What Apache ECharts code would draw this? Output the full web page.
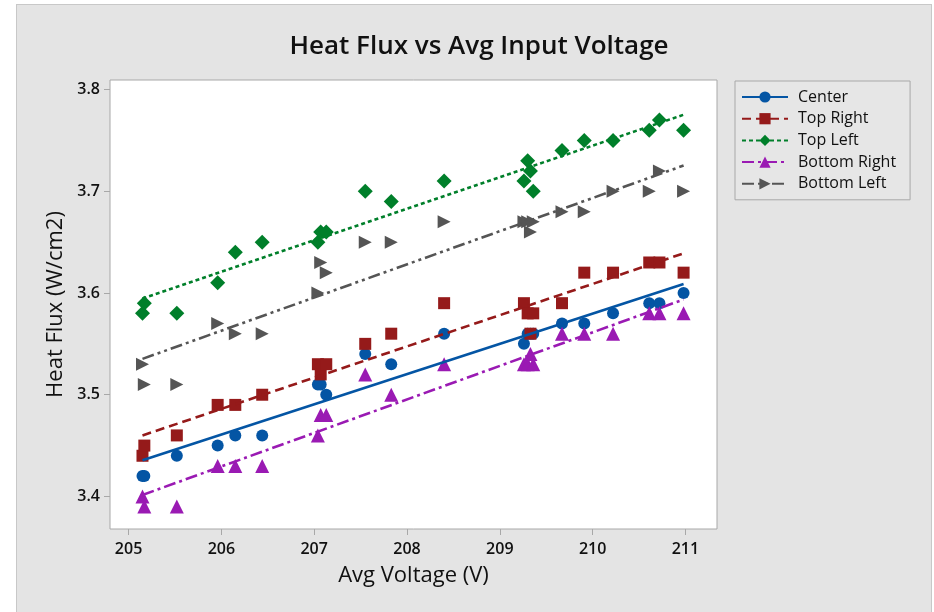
<!DOCTYPE html>
<html>
<head>
<meta charset="utf-8">
<script src="https://cdn.jsdelivr.net/npm/echarts@6/dist/echarts.min.js"></script>
<style>
html,body{margin:0;padding:0;background:#ffffff;}
#panel{position:absolute;left:16px;top:4px;width:916px;height:608px;background:#e4e4e4;border-left:1px solid #c8c8c8;border-top:1px solid #c8c8c8;border-right:1px solid #c8c8c8;box-sizing:border-box;}
#chart{position:absolute;left:0;top:0;width:934px;height:612px;}
</style>
</head>
<body>
<div id="panel"></div>
<div id="chart"></div>
<script>
const voltage = [205.15, 205.17, 205.52, 205.96, 206.15, 206.44, 207.04, 207.07, 207.13, 207.55, 207.83, 208.40, 209.26, 209.30, 209.33, 209.36, 209.67, 209.91, 210.22, 210.61, 210.72, 210.98];
const center      = [3.42, 3.42, 3.44, 3.45, 3.46, 3.46, 3.51, 3.51, 3.50, 3.54, 3.53, 3.56, 3.55, 3.56, 3.56, 3.56, 3.57, 3.57, 3.58, 3.59, 3.59, 3.60];
const topRight    = [3.44, 3.45, 3.46, 3.49, 3.49, 3.50, 3.53, 3.52, 3.53, 3.55, 3.56, 3.59, 3.59, 3.58, 3.56, 3.58, 3.59, 3.62, 3.62, 3.63, 3.63, 3.62];
const topLeft     = [3.58, 3.59, 3.58, 3.61, 3.64, 3.65, 3.65, 3.66, 3.66, 3.70, 3.69, 3.71, 3.71, 3.73, 3.72, 3.70, 3.74, 3.75, 3.75, 3.76, 3.77, 3.76];
const bottomRight = [3.40, 3.39, 3.39, 3.43, 3.43, 3.43, 3.46, 3.48, 3.48, 3.52, 3.50, 3.53, 3.53, 3.53, 3.54, 3.53, 3.56, 3.56, 3.56, 3.58, 3.58, 3.58];
const bottomLeft  = [3.53, 3.51, 3.51, 3.57, 3.56, 3.56, 3.60, 3.63, 3.62, 3.65, 3.65, 3.67, 3.67, 3.67, 3.66, 3.67, 3.68, 3.68, 3.70, 3.70, 3.72, 3.70];
const seriesNames = ['Center', 'Top Right', 'Top Left', 'Bottom Right', 'Bottom Left'];
const xTicks = [205, 206, 207, 208, 209, 210, 211];
const yTicks = [3.4, 3.5, 3.6, 3.7, 3.8];

const seriesValues = [center, topRight, topLeft, bottomRight, bottomLeft];
const styles = [
  {color:'#0455a4', symbol:'circle', size:12, dash:'solid'},
  {color:'#951a1a', symbol:'rect', size:12, dash:[9,5]},
  {color:'#007f2a', symbol:'diamond', size:15, dash:[4,3]},
  {color:'#9a1ab3', symbol:'triangle', size:14, dash:[12,4,3,4]},
  {color:'#555555', symbol:'path://M0,0L10,5.5L0,11Z', size:13, dash:[12,4,3,4,3,4]}
];

function fit(xs, ys){
  const n = xs.length;
  let sx=0, sy=0, sxx=0, sxy=0;
  for(let i=0;i<n;i++){sx+=xs[i];sy+=ys[i];sxx+=xs[i]*xs[i];sxy+=xs[i]*ys[i];}
  const b = (n*sxy - sx*sy)/(n*sxx - sx*sx);
  const a = (sy - b*sx)/n;
  return [a,b];
}

const xmin = Math.min(...voltage), xmax = Math.max(...voltage);
const series = [];
seriesNames.forEach((name, k) => {
  const st = styles[k];
  const [a,b] = fit(voltage, seriesValues[k]);
  series.push({
    name: name, type:'line', z:3,
    data: [[xmin, a+b*xmin],[xmax, a+b*xmax]],
    showSymbol:false, symbol: st.symbol, symbolSize: st.size,
    lineStyle:{color:st.color, width:2.6, type:st.dash},
    itemStyle:{color:st.color},
    silent:true, animation:false
  });
  series.push({
    name: name, type:'scatter', z:2,
    data: voltage.map((v,i)=>[v, seriesValues[k][i]]),
    symbol: st.symbol, symbolSize: st.size,
    itemStyle:{color:st.color, opacity:1},
    animation:false
  });
});

const font = "'Open Sans', 'Noto Sans', sans-serif";
const chart = echarts.init(document.getElementById('chart'), null, {renderer:'canvas'});
chart.setOption({
  backgroundColor:'transparent',
  animation:false,
  title:{
    text:'Heat Flux vs Avg Input Voltage', left:474, top:29, textAlign:'center',
    textStyle:{fontFamily:font, fontSize:26, fontWeight:600, color:'#111'}
  },
  grid:{left:110, top:80, width:607, height:449, show:true, backgroundColor:'#ffffff', borderColor:'#a8a8a8', borderWidth:1},
  xAxis:{
    type:'value', min:204.8, max:211.34,
    name:'Avg Voltage (V)', nameLocation:'middle', nameGap:36,
    nameTextStyle:{fontFamily:font, fontSize:22, fontWeight:500, color:'#111'},
    axisLine:{show:false},
    axisTick:{show:true, length:6, lineStyle:{color:'#a8a8a8'}, customValues:xTicks},
    axisLabel:{fontFamily:font, fontSize:16, fontWeight:600, color:'#111', margin:12, customValues:xTicks, formatter:v=>String(v)},
    splitLine:{show:false}
  },
  yAxis:{
    type:'value', min:3.368, max:3.8094,
    name:'Heat Flux (W/cm2)', nameLocation:'middle', nameGap:43,
    nameTextStyle:{fontFamily:font, fontSize:22, fontWeight:500, color:'#111'},
    axisLine:{show:false},
    axisTick:{show:true, length:6, lineStyle:{color:'#a8a8a8'}, customValues:yTicks},
    axisLabel:{fontFamily:font, fontSize:16, fontWeight:600, color:'#111', margin:10, customValues:yTicks, formatter:v=>v.toFixed(1)},
    splitLine:{show:false}
  },
  legend:{
    orient:'vertical', left:735, top:81,
    data: seriesNames,
    itemWidth:46, itemHeight:14, itemGap:5.7,
    padding:[8,14,8,6],
    borderColor:'#a8a8a8', borderWidth:1, backgroundColor:'#e6e6e6',
    textStyle:{fontFamily:font, fontSize:16, color:'#111', padding:[0,0,0,5]},
    selectedMode:false
  },
  series: series
});
</script>
</body>
</html>
